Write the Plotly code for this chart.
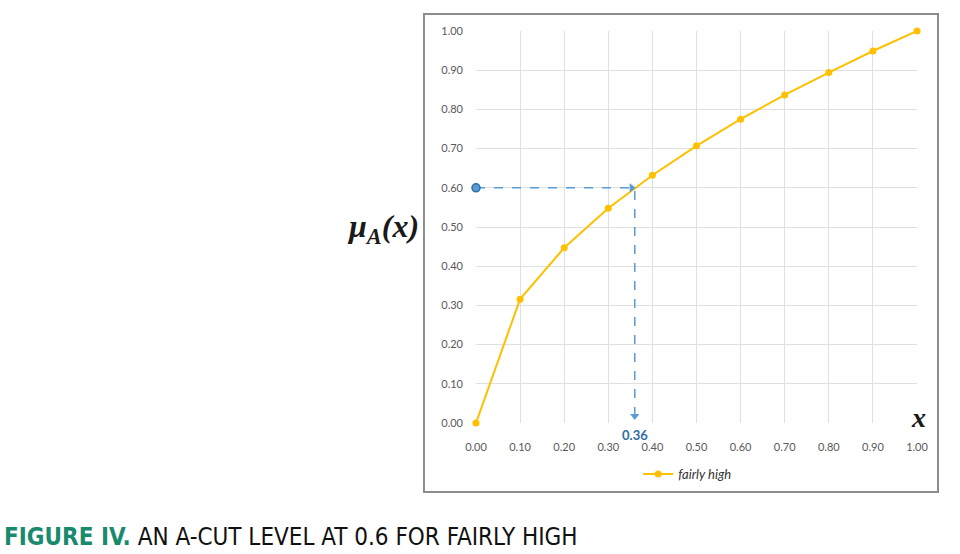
import plotly.graph_objects as go

x_vals = [0.0, 0.1, 0.2, 0.3, 0.4, 0.5, 0.6, 0.7, 0.8, 0.9, 1.0]
fairly_high = [0.0, 0.316, 0.447, 0.548, 0.632, 0.707, 0.775, 0.837, 0.894, 0.949, 1.0]
cut_level = 0.6
cut_x = 0.36
tick_vals = [0.0, 0.1, 0.2, 0.3, 0.4, 0.5, 0.6, 0.7, 0.8, 0.9, 1.0]

blue = "#5b9bd5"
gold = "#FFC000"

fig = go.Figure()

# dashed guide lines
fig.add_trace(go.Scatter(
    x=[0.0, cut_x, cut_x], y=[cut_level, cut_level, 0.0],
    mode="lines", line=dict(color=blue, width=1.5, dash="dash"),
    showlegend=False, hoverinfo="skip", cliponaxis=False))

fig.add_trace(go.Scatter(
    x=x_vals, y=fairly_high, mode="lines+markers", name="<i>fairly high</i>",
    line=dict(color=gold, width=2), marker=dict(color=gold, size=7),
    cliponaxis=False))

# start point
fig.add_trace(go.Scatter(
    x=[0.0], y=[cut_level], mode="markers",
    marker=dict(color=blue, size=8, line=dict(color="#2e6da4", width=1.5)),
    showlegend=False, hoverinfo="skip", cliponaxis=False))

# arrowheads
fig.add_trace(go.Scatter(
    x=[cut_x - 0.007, cut_x], y=[cut_level, 0.018], mode="markers",
    marker=dict(color=blue, size=8, symbol=["triangle-right", "triangle-down"]),
    showlegend=False, hoverinfo="skip", cliponaxis=False))

tick_font = dict(family="Lato, Open Sans, sans-serif", size=11, color="#595959")

fig.update_xaxes(range=[0, 1], tickvals=tick_vals, tickformat=".2f",
                 showgrid=True, gridcolor="#e0e0e0", gridwidth=1,
                 zeroline=False, showline=False, tickfont=tick_font,
                 ticks="", ticklabelstandoff=16)
fig.update_yaxes(range=[0, 1], tickvals=tick_vals, tickformat=".2f",
                 showgrid=True, gridcolor="#e0e0e0", gridwidth=1,
                 zeroline=False, showline=False, tickfont=tick_font, ticks="",
                 ticklabelstandoff=12)

fig.update_layout(
    width=960, height=554,
    margin=dict(l=476, r=43, t=31, b=131),
    paper_bgcolor="white", plot_bgcolor="white",
    showlegend=True,
    legend=dict(orientation="h", x=0.48, xanchor="center", y=-0.13, yanchor="middle",
                bgcolor="rgba(0,0,0,0)",
                font=dict(family="Lato, Open Sans, sans-serif", size=13, color="#333333"),
                itemwidth=30),
    shapes=[dict(type="rect", xref="paper", yref="paper",
                 x0=-0.118, x1=1.0476, y0=-0.176, y1=1.0434,
                 line=dict(color="#8c8c8c", width=2), fillcolor="rgba(0,0,0,0)",
                 layer="below")],
    annotations=[
        dict(text="<b><i>μ<sub>A</sub>(x)</i></b>", xref="paper", yref="paper",
             x=(421 - 476) / 441, xanchor="right", y=0.497, showarrow=False,
             font=dict(family="Liberation Serif, DejaVu Serif, serif", size=32, color="#1a1a1a")),
        dict(text="<b><i>x</i></b>", xref="paper", yref="paper",
             x=1.025, y=-0.03, showarrow=False,
             font=dict(family="Liberation Serif, DejaVu Serif, serif", size=28, color="#1a1a1a")),
        dict(text="<b>0.36</b>", xref="x", yref="paper", x=cut_x, y=-0.005,
             yanchor="top", showarrow=False,
             font=dict(family="Lato, Open Sans, sans-serif", size=13, color="#2e6da4")),
        dict(text="<b><span style='color:#1a8a6e'>FIGURE IV.</span></b> AN A-CUT LEVEL AT 0.6 FOR FAIRLY HIGH",
             xref="paper", yref="paper", x=(2 - 476) / 441, xanchor="left",
             y=(423 - 537) / 392, yanchor="middle", showarrow=False,
             font=dict(family="DejaVu Sans Condensed, Open Sans, sans-serif", size=24, color="#111111")),
    ],
)

fig.write_html("out.html", config={"displayModeBar": False},
               post_script="document.body.style.margin='0';")
